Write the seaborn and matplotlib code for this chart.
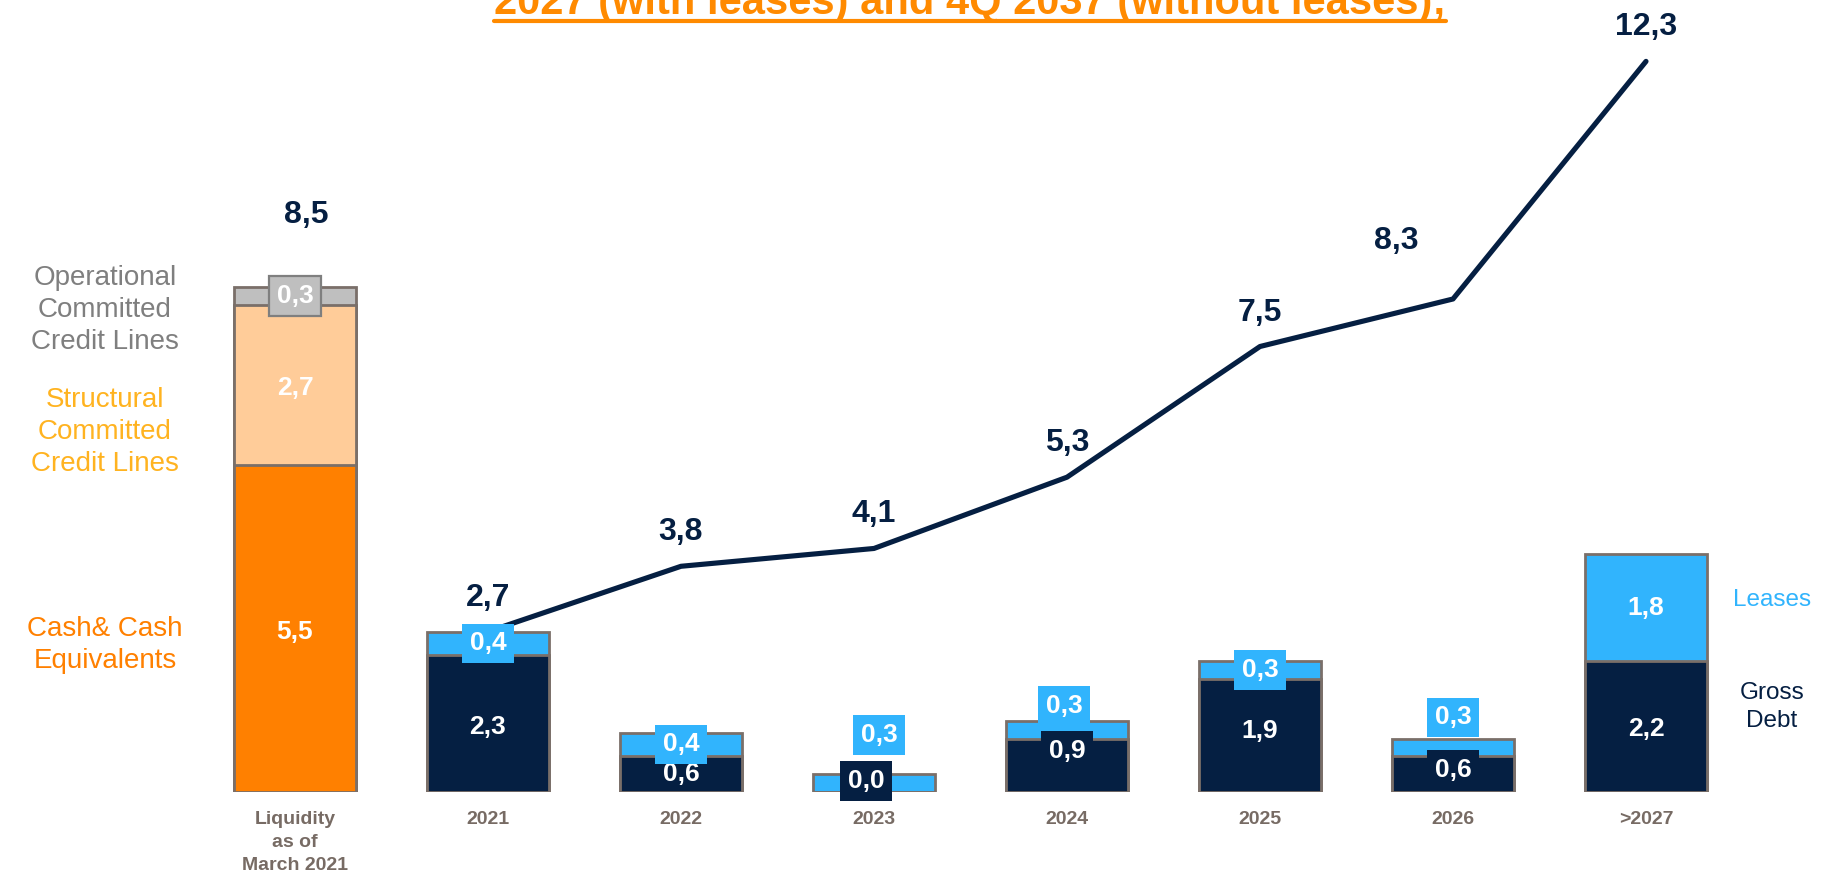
import numpy as np
import matplotlib
matplotlib.use("Agg")
import matplotlib.pyplot as plt
from matplotlib.lines import Line2D
import seaborn as sns

# ---- data (EUR bn) ----
categories = ["Liquidity\nas of\nMarch 2021", "2021", "2022", "2023", "2024", "2025", "2026", ">2027"]
cash = 5.5
structural_lines = 2.7
operational_lines = 0.3
liquidity_total = 8.5
gross_debt = [2.3, 0.6, 0.0, 0.9, 1.9, 0.6, 2.2]
leases = [0.4, 0.4, 0.3, 0.3, 0.3, 0.3, 1.8]
cumulative = [2.7, 3.8, 4.1, 5.3, 7.5, 8.3, 12.3]

# ---- styling ----
NAVY = "#051f42"
BLUE = "#31b4fd"
ORANGE = "#ff8000"
PEACH = "#ffcc99"
GREY = "#bfbfbf"
EDGE = "#7a6f69"
TICK = "#776b64"

sns.set_theme(style="white")
plt.rcParams["font.family"] = ["Liberation Sans", "DejaVu Sans"]

W, H = 1845, 877
BASE = 792          # pixel row of the bar baseline
PX_PER_UNIT = 59.4
X0, STEP = 295, 193  # pixel x of first category and spacing

fig = plt.figure(figsize=(W / 100, H / 100), dpi=100)
ax = fig.add_axes([0, (H - BASE) / H, 1, BASE / H])


def fmt(v):
    return f"{v:.1f}".replace(".", ",")


# stacked bars drawn as overlapping layers (tallest first)
year_totals = [d + l for d, l in zip(gross_debt, leases)]
top_layer = [liquidity_total] + year_totals
mid_layer = [cash + structural_lines] + gross_debt

bar_kw = dict(order=categories, dodge=False, legend=False, errorbar=None,
              width=0.632, edgecolor=EDGE, linewidth=2, saturation=1, ax=ax)
sns.barplot(x=categories, y=top_layer, hue=categories, hue_order=categories,
            palette=[GREY] + [BLUE] * 7, **bar_kw)
sns.barplot(x=categories, y=mid_layer, hue=categories, hue_order=categories,
            palette=[PEACH] + [NAVY] * 7, **bar_kw)
sns.barplot(x=categories[:1], y=[cash], hue=categories[:1],
            palette=[ORANGE], **bar_kw)
for p in ax.patches:
    p.set_zorder(2)

# cumulative maturity line
xs = np.arange(1, len(categories))
sns.lineplot(x=xs, y=cumulative, color=NAVY, linewidth=3.7, ax=ax,
             solid_capstyle="round", zorder=3)

ax.set_xlim(-X0 / STEP, (W - X0) / STEP)
ax.set_ylim(0, BASE / PX_PER_UNIT)
ax.set_xlabel("")
ax.set_ylabel("")
ax.set_yticks([])
for s in ax.spines.values():
    s.set_visible(False)
ax.tick_params(axis="x", length=0, pad=14, labelsize=14, labelcolor=TICK)
for lbl in ax.get_xticklabels():
    lbl.set_fontweight("bold")
    lbl.set_linespacing(1.45)


def seg_label(x, y, text, face=None, dx=0, dy=0, edge="none"):
    bbox = None
    if face is not None:
        bbox = dict(boxstyle="square,pad=0.3", fc=face, ec=edge, lw=1.6)
    ax.annotate(text, (x, y), xytext=(dx, dy), textcoords="offset pixels",
                ha="center", va="center", fontsize=19, fontweight="bold",
                color="white", bbox=bbox, zorder=5, annotation_clip=False)


# liquidity bar labels
seg_label(0, cash + structural_lines + operational_lines / 2, fmt(operational_lines),
          face=GREY, edge="#7f7f7f")
seg_label(0, cash + structural_lines / 2, fmt(structural_lines), dy=-3)
seg_label(0, cash / 2, fmt(cash), dy=-3)

# maturity bar labels: offsets and backing boxes where a label overflows its segment
lease_dx = [0, 0, 5, -3, 0, 0, 0]
lease_dy = [0, 0, 48, 24, 0, 30, 0]
debt_dx = [0, 0, -8, 0, 0, 0, 0]
debt_dy = [-3, 0, 11, 14, 5, 4, -2]
debt_boxed = [False, False, True, True, False, True, False]
for i, (d, l) in enumerate(zip(gross_debt, leases)):
    x = i + 1
    seg_label(x, d / 2, fmt(d), face=NAVY if debt_boxed[i] else None,
              dx=debt_dx[i], dy=debt_dy[i])
    seg_label(x, d + l / 2, fmt(l), face=BLUE, dx=lease_dx[i], dy=lease_dy[i])

# totals above line points and liquidity bar
line_off = [(0, 34)] * len(cumulative)
line_off[5] = (-57, 58)
for x, v, (ox, oy) in zip(xs, cumulative, line_off):
    ax.annotate(fmt(v), (x, v), xytext=(ox, oy), textcoords="offset pixels",
                ha="center", va="center", fontsize=23, fontweight="bold",
                color=NAVY, annotation_clip=False)
ax.annotate(fmt(liquidity_total), (0, liquidity_total), xytext=(11, 72),
            textcoords="offset pixels", ha="center", va="center", fontsize=23,
            fontweight="bold", color=NAVY, annotation_clip=False)


# side captions
def fig_text(px, py, s, color, ls=1.3, size=20):
    fig.text(px / W, 1 - py / H, s, ha="center", va="center", ma="center",
             fontsize=size, color=color, linespacing=ls)


fig_text(105, 310, "Operational\nCommitted\nCredit Lines", "#7f7f7f")
fig_text(105, 432, "Structural\nCommitted\nCredit Lines", "#ffb320")
fig_text(105, 645, "Cash& Cash\nEquivalents", ORANGE)
fig_text(1772, 600, "Leases", BLUE, size=17.5)
fig_text(1772, 707, "Gross\nDebt", NAVY, ls=1.39, size=17.5)

# headline (underlined)
title = fig.text(970 / W, 1 - 14 / H, "2027 (with leases) and 4Q 2037 (without leases);",
                 ha="center", va="baseline", fontsize=30, fontweight="bold",
                 color="#ff8a00")
fig.canvas.draw()
bb = title.get_window_extent(fig.canvas.get_renderer())
uy = 1 - 21 / H
fig.add_artist(Line2D([bb.x0 / W, bb.x1 / W], [uy, uy], transform=fig.transFigure,
                      color="#ff8a00", linewidth=3))

fig.savefig("out.png", dpi=100, facecolor="white")
